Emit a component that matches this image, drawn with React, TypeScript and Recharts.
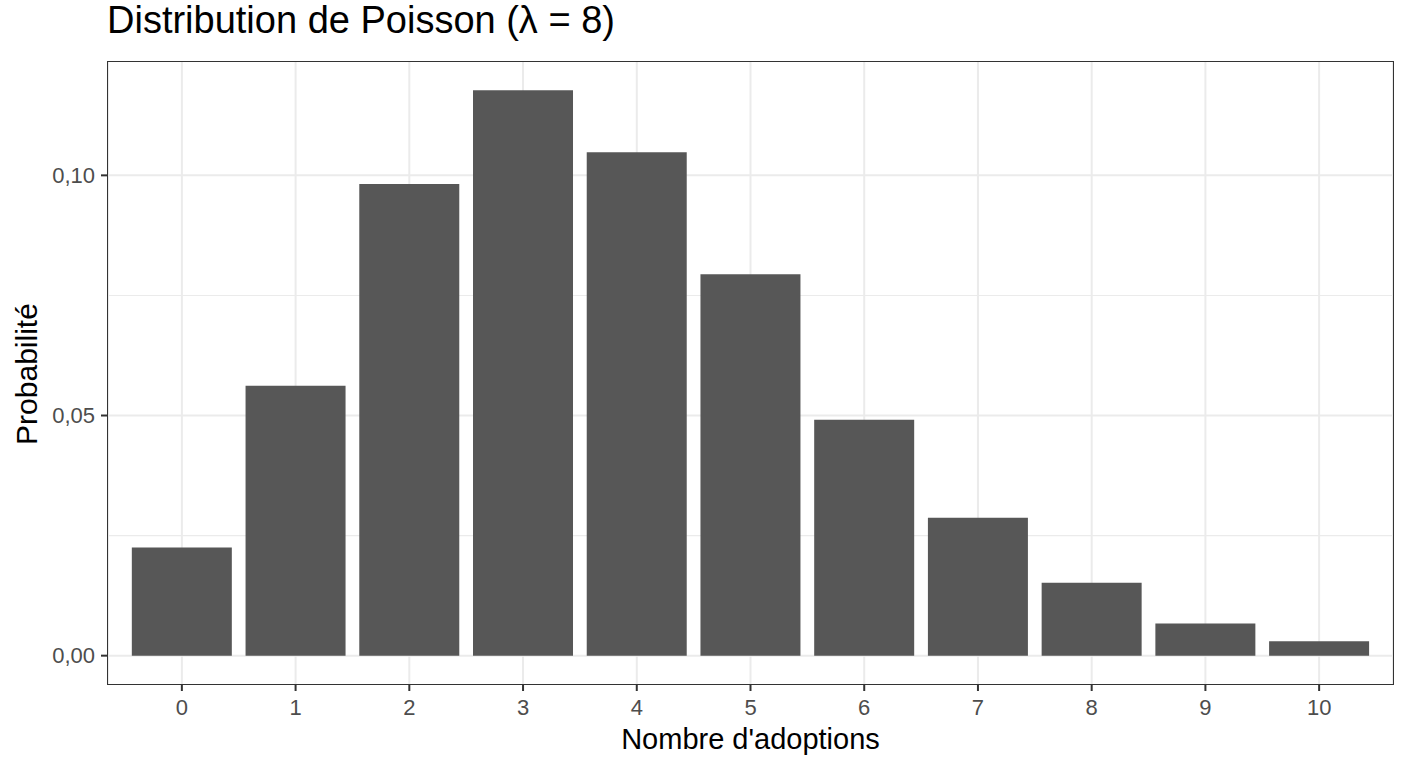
import React from 'react';
import { BarChart, Bar, XAxis, YAxis, CartesianGrid } from 'recharts';

// Probabilities, one per count 0..10
const counts = ['0', '1', '2', '3', '4', '5', '6', '7', '8', '9', '10'];
const probabilities = [0.0225, 0.0562, 0.0982, 0.1177, 0.1048, 0.0794, 0.0491, 0.0287, 0.0152, 0.0067, 0.003];
const majorTicks = [0, 0.05, 0.1];
const minorTicks = [0.025, 0.075];

const data = counts.map((k, i) => ({ k, p: probabilities[i] }));

const W = 1408;
const H = 768;
const PANEL = { left: 108, top: 62, right: 1393, bottom: 684 };
const FONT = 'Arial, "Liberation Sans", Helvetica, sans-serif';

const fmt = (v: number) => v.toFixed(2).replace('.', ',');

const App: React.FC = () => {
  return (
    <div style={{ position: 'absolute', left: 0, top: 0, width: W, height: H, background: '#fff', fontFamily: FONT }}>
      <div
        style={{
          position: 'absolute',
          left: 107,
          top: 1,
          fontSize: 38,
          lineHeight: '38px',
          color: '#000',
          whiteSpace: 'nowrap',
        }}
      >
        Distribution de Poisson (λ = 8)
      </div>

      <BarChart
        width={W}
        height={H}
        data={data}
        margin={{ top: PANEL.top, right: W - PANEL.right, bottom: 0, left: 0 }}
        barCategoryGap="6%"
      >
        <CartesianGrid
          horizontalValues={minorTicks}
          vertical={false}
          stroke="#EBEBEB"
          strokeWidth={1.1}
        />
        <CartesianGrid horizontalValues={majorTicks} stroke="#EBEBEB" strokeWidth={2} />
        <XAxis
          dataKey="k"
          type="category"
          height={H - PANEL.bottom}
          padding={{ left: 17, right: 17 }}
          axisLine={false}
          tickSize={7}
          tickMargin={8}
          tickLine={{ stroke: '#333333', strokeWidth: 2 }}
          tick={{ fill: '#4D4D4D', fontSize: 22, fontFamily: FONT }}
          interval={0}
        />
        <YAxis
          type="number"
          width={PANEL.left}
          domain={[-0.0059, 0.1236]}
          ticks={majorTicks}
          allowDataOverflow
          axisLine={false}
          tickSize={7}
          tickMargin={6}
          tickLine={{ stroke: '#333333', strokeWidth: 2 }}
          tick={{ fill: '#4D4D4D', fontSize: 22, fontFamily: FONT }}
          tickFormatter={fmt}
        />
        <Bar dataKey="p" fill="#575757" isAnimationActive={false} />
      </BarChart>

      {/* panel border */}
      <div
        style={{
          position: 'absolute',
          left: PANEL.left - 1,
          top: PANEL.top - 1,
          width: PANEL.right - PANEL.left,
          height: PANEL.bottom - PANEL.top,
          border: '1.5px solid #333333',
          pointerEvents: 'none',
        }}
      />

      <div
        style={{
          position: 'absolute',
          left: (PANEL.left + PANEL.right) / 2 - 200,
          top: 725,
          width: 400,
          textAlign: 'center',
          fontSize: 29,
          lineHeight: '29px',
          color: '#000',
        }}
      >
        Nombre d'adoptions
      </div>

      <div
        style={{
          position: 'absolute',
          left: 27 - 100,
          top: 374 - 15,
          width: 200,
          height: 30,
          textAlign: 'center',
          fontSize: 30,
          lineHeight: '30px',
          color: '#000',
          transform: 'rotate(-90deg)',
        }}
      >
        Probabilité
      </div>
    </div>
  );
};

export default App;
